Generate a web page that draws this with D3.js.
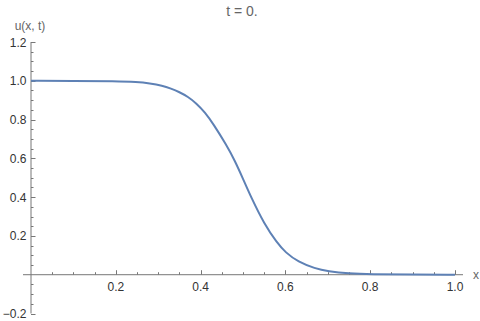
<!DOCTYPE html>
<html><head><meta charset="utf-8">
<script src="https://cdn.jsdelivr.net/npm/d3@7"></script>
<style>body{margin:0;background:#fff}svg{display:block}</style>
</head><body>
<script>
const xValues = [0, 0.1, 0.2, 0.25, 0.28, 0.31, 0.33, 0.35, 0.37, 0.39, 0.41, 0.43, 0.46, 0.48, 0.5, 0.52, 0.55, 0.58, 0.6, 0.63, 0.67, 0.7, 0.75, 0.8, 0.9, 1.0];
const uValues = [1.0, 0.999, 0.998, 0.994, 0.987, 0.975, 0.96, 0.942, 0.918, 0.884, 0.838, 0.778, 0.672, 0.592, 0.495, 0.395, 0.262, 0.165, 0.115, 0.066, 0.032, 0.018, 0.006, 0.002, 0.0003, 0.0];
const xTicks = [0.2, 0.4, 0.6, 0.8, 1.0];
const xTickLabels = ["0.2", "0.4", "0.6", "0.8", "1.0"];
const yTicks = [-0.2, 0.2, 0.4, 0.6, 0.8, 1.0, 1.2];
const yTickLabels = ["\u22120.2", "0.2", "0.4", "0.6", "0.8", "1.0", "1.2"];
const titleText = "t = 0.";
const yLabel = "u(x, t)";
const xLabel = "x";

const W = 480, H = 321;
const svg = d3.select("body").append("svg").attr("width", W).attr("height", H);
const x = d3.scaleLinear().domain([0, 1]).range([31, 455]);
const y = d3.scaleLinear().domain([-0.2, 1.2]).range([313.5, 42]);
const axisColor = "#777", labelColor = "#333", font = "Liberation Sans, Arial, sans-serif";

svg.append("line").attr("x1", 23).attr("x2", 463).attr("y1", y(0)).attr("y2", y(0))
  .attr("stroke", axisColor).attr("stroke-width", 1);
svg.append("line").attr("x1", x(0)).attr("x2", x(0)).attr("y1", y(1.2)).attr("y2", y(-0.2))
  .attr("stroke", axisColor).attr("stroke-width", 1);

const xMinor = d3.range(0.05, 1.0001, 0.05).filter(v => !xTicks.some(t => Math.abs(t - v) < 1e-6));
svg.selectAll(".xminor").data(xMinor).enter().append("line")
  .attr("x1", d => Math.round(x(d)) + 0.5).attr("x2", d => Math.round(x(d)) + 0.5)
  .attr("y1", y(0)).attr("y2", y(0) - 2.5).attr("stroke", axisColor);
svg.selectAll(".xmajor").data(xTicks).enter().append("line")
  .attr("x1", d => Math.round(x(d)) + 0.5).attr("x2", d => Math.round(x(d)) + 0.5)
  .attr("y1", y(0)).attr("y2", y(0) - 4.5).attr("stroke", axisColor);
svg.selectAll(".xlab").data(xTicks).enter().append("text")
  .attr("x", d => x(d)).attr("y", y(0) + 16).attr("text-anchor", "middle")
  .attr("font-family", font).attr("font-size", 12).attr("fill", labelColor)
  .text((d, i) => xTickLabels[i]);

const yMinor = d3.range(-0.15, 1.2001, 0.05).filter(v => !yTicks.some(t => Math.abs(t - v) < 1e-6) && Math.abs(v) > 1e-6);
svg.selectAll(".yminor").data(yMinor).enter().append("line")
  .attr("x1", x(0)).attr("x2", x(0) + 2.5)
  .attr("y1", d => Math.round(y(d)) + 0.5).attr("y2", d => Math.round(y(d)) + 0.5).attr("stroke", axisColor);
svg.selectAll(".ymajor").data(yTicks).enter().append("line")
  .attr("x1", x(0)).attr("x2", x(0) + 4.5)
  .attr("y1", d => Math.round(y(d)) + 0.5).attr("y2", d => Math.round(y(d)) + 0.5).attr("stroke", axisColor);
svg.selectAll(".ylab").data(yTicks).enter().append("text")
  .attr("x", 26.5).attr("y", d => y(d) + 4.5).attr("text-anchor", "end")
  .attr("font-family", font).attr("font-size", 12).attr("fill", labelColor)
  .text((d, i) => yTickLabels[i]);

const pts = xValues.map((v, i) => [v, uValues[i]]);
svg.append("path").datum(pts)
  .attr("d", d3.line().x(d => x(d[0])).y(d => y(d[1])).curve(d3.curveBasis))
  .attr("fill", "none").attr("stroke", "#5E81B5").attr("stroke-width", 2);

svg.append("text").attr("x", 242).attr("y", 16).attr("text-anchor", "middle")
  .attr("font-family", font).attr("font-size", 14).attr("fill", "#666").text(titleText);
svg.append("text").attr("x", 30).attr("y", 30).attr("text-anchor", "middle")
  .attr("font-family", font).attr("font-size", 12).attr("fill", "#666").text(yLabel);
svg.append("text").attr("x", 473).attr("y", 279).attr("text-anchor", "start")
  .attr("font-family", font).attr("font-size", 12).attr("fill", "#666").text(xLabel);
</script>
</body></html>
